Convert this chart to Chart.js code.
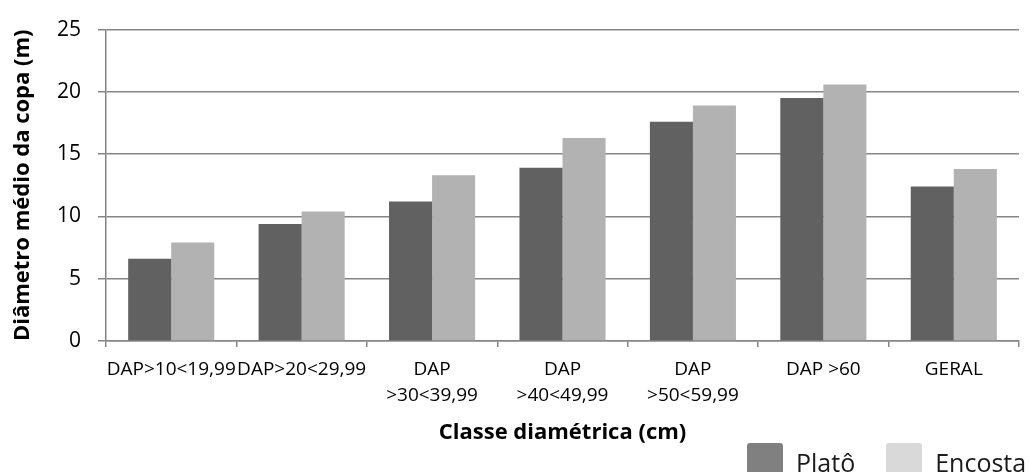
<!DOCTYPE html>
<html>
<head>
<meta charset="utf-8">
<script src="https://cdn.jsdelivr.net/npm/chart.js@4.4.0/dist/chart.umd.min.js"></script>
<style>
  html, body { margin: 0; padding: 0; background: #fff; overflow: hidden; }
  #wrap { position: relative; width: 1030px; height: 472px; overflow: hidden; }
  #legend { position: absolute; left: 747px; top: 443px; white-space: nowrap;
    font-family: "Open Sans", sans-serif; font-size: 25px; color: #1a1a1a; }
  .item { display: inline-block; position: relative; }
  .box { position: absolute; left: 0; top: 0; width: 36px; height: 40px; border-radius: 3px; }
  .label { display: inline-block; margin-left: 49px; line-height: 30px; padding-top: 4px; }
</style>
</head>
<body>
<div id="wrap">
  <canvas id="chart"></canvas>
  <div id="legend"></div>
</div>
<script>
const categories = [
  "DAP>10<19,99",
  "DAP>20<29,99",
  ["DAP", ">30<39,99"],
  ["DAP", ">40<49,99"],
  ["DAP", ">50<59,99"],
  "DAP >60",
  "GERAL",
];
const plato = [6.6, 9.4, 11.2, 13.9, 17.6, 19.5, 12.4];
const encosta = [7.9, 10.4, 13.3, 16.3, 18.9, 20.6, 13.8];
const yTicks = [0, 5, 10, 15, 20, 25];

const seriesNames = ["Platô", "Encosta"];
const barColors = ["#616161", "#b2b2b2"];
const legendColors = ["#808080", "#d9d9d9"];

const axisColor = "#868686";
const font = "'Open Sans', sans-serif";

// legend sits at the bottom right and runs off the page like the original
const legend = document.getElementById("legend");
legend.innerHTML = seriesNames
  .map(
    (name, i) =>
      `<span class="item" style="margin-right:${i === 0 ? 31 : 0}px">` +
      `<span class="box" style="background:${legendColors[i]}"></span>` +
      `<span class="label">${name}</span></span>`
  )
  .join("");

const ctx = document.getElementById("chart");

new Chart(ctx, {
  type: "bar",
  data: {
    labels: categories,
    datasets: [
      { label: seriesNames[0], data: plato, backgroundColor: barColors[0] },
      { label: seriesNames[1], data: encosta, backgroundColor: barColors[1] },
    ],
  },
  options: {
    responsive: true,
    maintainAspectRatio: false,
    animation: false,
    layout: { padding: { top: 27, right: 11, bottom: 26, left: 0 } },
    datasets: { bar: { categoryPercentage: 0.66, barPercentage: 1.0 } },
    plugins: {
      legend: { display: false },
      tooltip: { enabled: false },
    },
    scales: {
      x: {
        grid: {
          drawOnChartArea: false,
          tickLength: 6,
          color: axisColor,
          lineWidth: 1.5,
        },
        border: { color: axisColor, width: 1.5 },
        ticks: {
          color: "#000",
          maxRotation: 0,
          autoSkip: false,
          padding: 10,
          font: { family: font, size: 19, lineHeight: "26px" },
        },
        title: {
          display: true,
          text: "Classe diamétrica (cm)",
          color: "#000",
          padding: { top: 0, bottom: 0 },
          font: { family: font, size: 22, weight: "bold" },
        },
        afterFit: (scale) => {
          scale.height = 105;
        },
      },
      y: {
        min: 0,
        max: 25,
        afterBuildTicks: (scale) => {
          scale.ticks = yTicks.map((v) => ({ value: v }));
        },
        grid: { color: axisColor, lineWidth: 1.5, tickLength: 8 },
        border: { color: axisColor, width: 1.5 },
        ticks: {
          color: "#000",
          padding: 17,
          font: { family: font, size: 21 },
        },
        title: {
          display: true,
          text: "Diâmetro médio da copa (m)",
          color: "#000",
          padding: { top: 10, bottom: 0 },
          font: { family: font, size: 22, weight: "bold" },
        },
        afterFit: (scale) => {
          scale.width = 106;
        },
      },
    },
  },
});
</script>
</body>
</html>
